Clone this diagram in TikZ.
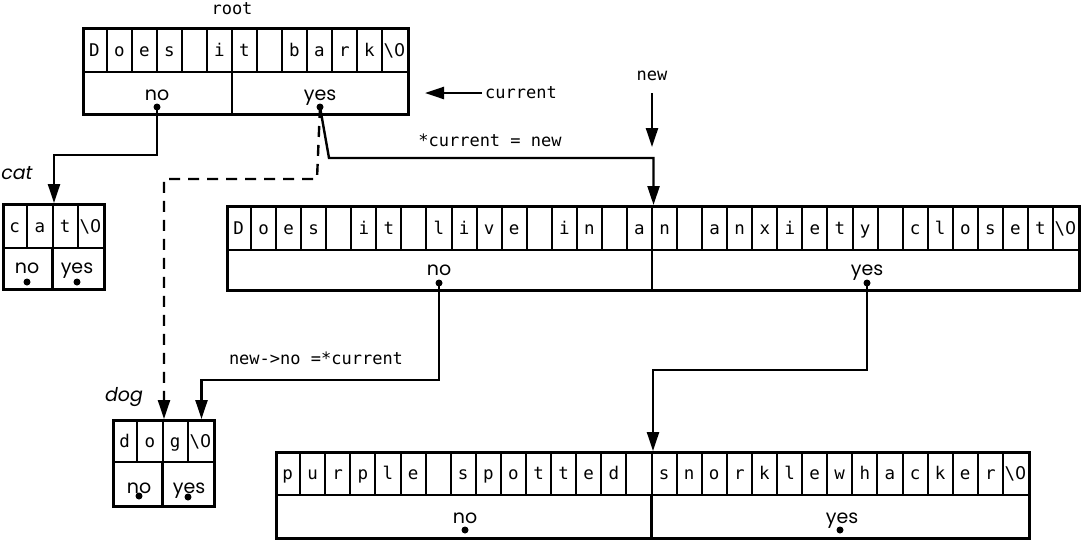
\documentclass[tikz,border=0pt]{standalone}
\usepackage{fontspec}
\newfontfamily\monofont{DejaVu Sans Mono}
\newfontfamily\zerofont{DejaVu Sans}
\newfontfamily\geofont{Poppins}
\usetikzlibrary{arrows.meta}
\newcommand\zer{\textbackslash{\zerofont 0}}
\newcommand\strbox[9]{%
  \pgfmathsetmacro\bw{#6*#9}%
  \pgfmathsetmacro\bh{#5-#3}%
  \node[box, minimum width=\bw pt, minimum height=\bh pt, anchor=north west] (#1) at (#2,#3) {};
  \draw[midline] (#2,#4) -- ++(\bw,0);
  \draw[midline] ({#2+#6*#7},#4) -- ({#2+#6*#7},#5);
  \foreach \c [count=\i from 0] in {#8} {
    \node[chr] (#1c\i) at ({#2+#6*(\i+0.5)},{(#3+#4)/2+6.5}) {\c};
    \ifnum\i>0 \draw[cellline] ({#2+#6*\i},#3) -- ({#2+#6*\i},#4);\fi
  }%
}
\begin{document}
\begin{tikzpicture}[x=1pt,y=-1pt,
  box/.style={draw, line width=3pt, inner sep=0pt},
  cellline/.style={line width=2pt},
  midline/.style={line width=2.6pt},
  chr/.style={anchor=base, inner sep=0pt, font=\monofont\fontsize{17.5}{17.5}\selectfont},
  yn/.style={anchor=base, inner sep=0pt, font=\geofont\fontsize{19}{19}\selectfont},
  lbl/.style={inner sep=0pt, font=\monofont\fontsize{17}{17}\selectfont},
  nm/.style={inner sep=0pt, font=\geofont\itshape\fontsize{19}{19}\selectfont},
  conn/.style={line width=2.4pt, -{Triangle[length=19pt,width=12pt]}},
  dashconn/.style={conn, dash pattern=on 11pt off 8pt},
  dot/.style={fill, circle, inner sep=0pt, minimum size=7pt},
]
\useasboundingbox (0,0) rectangle (1082,539);

% boxes
\strbox{root}{82}{27}{72}{113}{25}{6}{D,o,e,s,{},i,t,{},b,a,r,k,\zer}{13}
\strbox{cat}{2}{203}{248}{288}{25.25}{2}{c,a,t,\zer}{4}
\strbox{dog}{112}{419}{462}{505}{25.25}{2}{d,o,g,\zer}{4}
\strbox{big}{226}{205}{250}{289}{25.06}{17}{D,o,e,s,{},i,t,{},l,i,v,e,{},i,n,{},a,n,{},a,n,x,i,e,t,y,{},c,l,o,s,e,t,\zer}{34}
\strbox{bot}{275}{451}{495}{537}{25.1}{15}{p,u,r,p,l,e,{},s,p,o,t,t,e,d,{},s,n,o,r,k,l,e,w,h,a,c,k,e,r,\zer}{30}

% no / yes labels
\node[yn] (rootnot) at (157,100) {no};
\node[yn] (rootyest) at (320,100) {yes};
\node[yn] (catnot) at (27,273) {no};
\node[yn] (catyest) at (77,273) {yes};
\node[yn] (dognot) at (139,493) {no};
\node[yn] (dogyest) at (189,493) {yes};
\node[yn] (bignot) at (439,275) {no};
\node[yn] (bigyest) at (867,275) {yes};
\node[yn] (botnot) at (465,523) {no};
\node[yn] (botyest) at (842,523) {yes};

% dots
\node[dot] (rootno) at (157,107) {};
\node[dot] (rootyes) at (320,107) {};
\node[dot] (catno) at (27,282) {};
\node[dot] (catyes) at (77,282) {};
\node[dot] (dogno) at (139,496) {};
\node[dot] (dogyes) at (188,497) {};
\node[dot] (bigno) at (439,283) {};
\node[dot] (bigyes) at (867,283) {};
\node[dot] (botno) at (465,530) {};
\node[dot] (botyes) at (840,530) {};

% labels
\node[lbl] (rootlbl) at (232,9) {root};
\node[lbl, anchor=west] (curlbl) at (485,93) {current};
\node[lbl] (newlbl) at (652,76) {new};
\node[lbl] (setlbl) at (490,140) {*current = new};
\node[lbl] (nextlbl) at (316,358) {new->no =*current};
\node[nm] (catlbl) at (17,173) {cat};
\node[nm] (doglbl) at (124,397) {dog};

% coordinates
\coordinate (curtip) at (425,93);
\coordinate (newtip) at (652,147);
\coordinate (yesbend) at (329,158);
\coordinate (dashbend) at (317,179);
\coordinate (dogzero) at ([xshift=37.5pt]dog.north);

% connectors
\draw[conn] ([xshift=-3pt]curlbl.west) -- (curtip);
\draw[conn] ([yshift=-12pt]newlbl.south) -- (newtip);
\draw[conn] (rootno.center) -- ++(0,48) -| (cat.north);
\draw[conn] (rootyes.center) -- (yesbend) -| (big.north);
\draw[dashconn] (rootyes.center) -- (dashbend) -| (dog.north);
\draw[conn] (bigno.center) -- ++(0,97) -| (dogzero);
\draw[conn] (bigyes.center) -- ++(0,87) -| (bot.north);
\end{tikzpicture}
\end{document}
